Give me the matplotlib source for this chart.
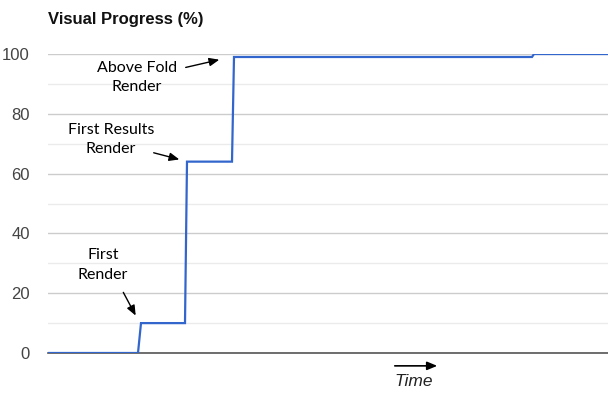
import matplotlib
matplotlib.use("Agg")
import matplotlib.pyplot as plt
from matplotlib.ticker import MultipleLocator

# step data (time in arbitrary units)
time = [0, 0.90, 0.93, 1.37, 1.39, 1.84, 1.86, 4.84, 4.86, 5.60]
progress = [0, 0, 10, 10, 64, 64, 99, 99, 100, 100]

labels = ["First\nRender", "First Results\nRender", "Above Fold\nRender"]
label_pos = [(0.55, 29.4), (0.63, 71.4), (0.89, 92.1)]
arrow_from = [(0.74, 21.1), (1.03, 67.2), (1.35, 95.3)]
arrow_to = [(0.89, 11.7), (1.34, 64.5), (1.74, 98.3)]

fig = plt.figure(figsize=(6.08, 3.99), dpi=100)
ax = fig.add_axes([48/608, 46/399, 560/608, 299/399])

ax.plot(time, progress, color="#3366cc", lw=1.6, solid_joinstyle="miter", zorder=3)

ax.set_xlim(0, 5.6)
ax.set_ylim(0, 100)
ax.yaxis.set_major_locator(MultipleLocator(20))
ax.yaxis.set_minor_locator(MultipleLocator(10))
ax.grid(which="major", axis="y", color="#cccccc", lw=1)
ax.grid(which="minor", axis="y", color="#ebebeb", lw=1)
ax.set_xticks([])
ax.tick_params(axis="y", which="both", length=0, pad=13, labelsize=12, labelcolor="#444444")
for t in ax.get_yticklabels():
    t.set_fontfamily("Liberation Sans")
for s in ["top", "right", "left"]:
    ax.spines[s].set_visible(False)
ax.spines["bottom"].set_color("#555555")
ax.spines["bottom"].set_linewidth(1.2)
ax.set_axisbelow(True)

fig.text(48/608, 1 - 24/399, "Visual Progress (%)", fontsize=12, fontweight="bold",
         family="Liberation Sans", color="#111111", va="baseline", ha="left")

for txt, pos, a0, a1 in zip(labels, label_pos, arrow_from, arrow_to):
    ax.text(pos[0], pos[1], txt, ha="center", va="center", fontsize=11.5,
            family="Lato", linespacing=1.5, color="black")
    ax.annotate("", xy=a1, xytext=a0,
                arrowprops=dict(arrowstyle="-|>,head_length=0.6,head_width=0.25",
                                color="black", lw=1))

ax.annotate("", xy=(3.92, -4.3), xytext=(3.44, -4.3), annotation_clip=False,
            arrowprops=dict(arrowstyle="-|>,head_length=0.6,head_width=0.25",
                            color="black", lw=1.2))
ax.text(3.66, -9.4, "Time", ha="center", va="center", fontsize=12.5, style="italic",
        family="Liberation Sans", color="#222222", clip_on=False)

fig.savefig("out.png", dpi=100)
